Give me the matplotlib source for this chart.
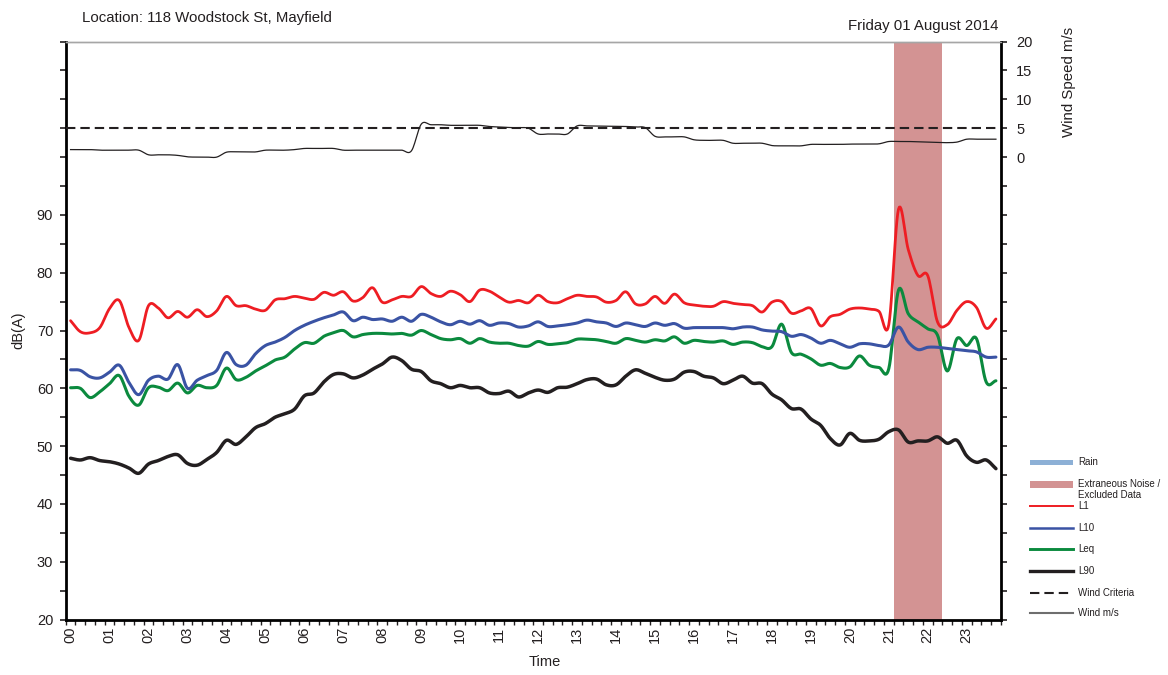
import numpy as np
import matplotlib
matplotlib.use("Agg")
import matplotlib.pyplot as plt
from matplotlib.lines import Line2D
from matplotlib.patches import Rectangle
from matplotlib.ticker import FixedLocator, FuncFormatter

plt.rcParams['font.family'] = ['Liberation Sans', 'DejaVu Sans']

# 15-minute intervals, 00:00 to 23:45
hour_labels = ["00", "01", "02", "03", "04", "05", "06", "07", "08", "09", "10", "11",
               "12", "13", "14", "15", "16", "17", "18", "19", "20", "21", "22", "23"]

L1 = [71.7, 69.8, 69.6, 70.5, 73.8, 75.2, 70.5, 68.3, 74.3, 73.9, 72.2, 73.3,
      72.3, 73.6, 72.4, 73.4, 75.9, 74.3, 74.3, 73.7, 73.5, 75.3, 75.5, 75.9,
      75.6, 75.4, 76.6, 76.1, 76.7, 75.1, 75.7, 77.4, 74.9, 75.3, 75.9, 75.9,
      77.6, 76.4, 75.9, 76.8, 76.2, 75.0, 77.0, 76.8, 75.8, 74.9, 75.2, 74.8,
      76.1, 75.0, 74.8, 75.5, 76.1, 75.9, 75.8, 74.9, 75.2, 76.7, 74.6, 74.6,
      75.9, 74.7, 76.3, 74.8, 74.4, 74.2, 74.2, 75.0, 74.7, 74.5, 74.3, 73.2,
      74.9, 75.0, 73.0, 73.4, 73.8, 70.8, 72.4, 72.8, 73.7, 73.9, 73.7, 73.3,
      71.0, 91.0, 84.0, 79.5, 79.5, 71.5, 71.0, 73.5, 75.0, 74.0, 70.4, 72.0]

L10 = [63.2, 63.1, 62.0, 61.8, 62.8, 64.0, 61.0, 58.9, 61.4, 62.1, 61.6, 64.1,
       60.0, 61.4, 62.2, 63.1, 66.2, 64.1, 64.0, 66.0, 67.4, 68.0, 68.8, 70.0,
       70.9, 71.6, 72.2, 72.7, 73.2, 71.7, 72.3, 71.9, 72.0, 71.6, 72.3, 71.6,
       72.8, 72.3, 71.5, 71.0, 71.6, 71.1, 71.7, 70.9, 71.3, 71.2, 70.6, 70.8,
       71.5, 70.7, 70.8, 71.0, 71.3, 71.8, 71.5, 71.3, 70.7, 71.3, 71.0, 70.7,
       71.3, 70.9, 71.2, 70.4, 70.5, 70.5, 70.5, 70.5, 70.3, 70.6, 70.6, 70.1,
       69.9, 69.8, 69.0, 69.3, 68.7, 67.8, 68.3, 67.7, 67.1, 67.7, 67.7, 67.4,
       67.5, 70.6, 68.0, 66.7, 67.1, 67.1, 66.9, 66.7, 66.5, 66.3, 65.4, 65.4]

Leq = [60.1, 60.0, 58.4, 59.4, 60.8, 62.2, 58.6, 57.1, 60.1, 60.2, 59.6, 60.9,
       59.2, 60.5, 60.1, 60.5, 63.5, 61.5, 61.9, 63.0, 63.9, 64.9, 65.4, 66.8,
       67.9, 67.8, 69.0, 69.6, 70.0, 68.9, 69.3, 69.5, 69.5, 69.4, 69.5, 69.2,
       70.0, 69.3, 68.6, 68.4, 68.6, 67.8, 68.6, 68.0, 67.8, 67.8, 67.4, 67.3,
       68.1, 67.6, 67.7, 67.9, 68.5, 68.5, 68.4, 68.1, 67.8, 68.6, 68.3, 68.0,
       68.4, 68.2, 68.9, 67.8, 68.3, 68.1, 68.0, 68.2, 67.6, 68.0, 67.9, 67.2,
       67.2, 71.1, 66.2, 65.9, 65.1, 64.0, 64.3, 63.6, 63.7, 65.6, 64.0, 63.6,
       63.4, 77.0, 72.9, 71.5, 70.3, 69.2, 63.0, 68.6, 67.4, 68.6, 61.1, 61.3]

L90 = [47.9, 47.6, 48.0, 47.5, 47.3, 46.9, 46.2, 45.3, 46.9, 47.5, 48.2, 48.5,
       47.0, 46.7, 47.7, 48.9, 51.0, 50.3, 51.6, 53.2, 53.9, 55.0, 55.6, 56.4,
       58.7, 59.2, 61.1, 62.4, 62.5, 61.8, 62.3, 63.3, 64.2, 65.4, 64.8, 63.3,
       62.9, 61.3, 60.8, 60.1, 60.5, 60.1, 60.1, 59.2, 59.1, 59.5, 58.5, 59.2,
       59.7, 59.3, 60.1, 60.2, 60.8, 61.5, 61.6, 60.6, 60.6, 62.1, 63.2, 62.6,
       61.9, 61.4, 61.6, 62.8, 62.9, 62.1, 61.8, 60.8, 61.4, 62.1, 60.9, 60.8,
       59.0, 58.0, 56.5, 56.4, 54.7, 53.6, 51.3, 50.2, 52.2, 51.0, 50.9, 51.2,
       52.5, 52.8, 50.7, 50.9, 50.9, 51.6, 50.5, 51.0, 48.3, 47.2, 47.6, 46.1]

wind = [1.3, 1.3, 1.3, 1.2, 1.2, 1.2, 1.2, 1.2, 0.4, 0.4, 0.4, 0.3,
        0.05, 0.0, 0.0, 0.0, 0.85, 0.9, 0.9, 0.9, 1.2, 1.2, 1.2, 1.3,
        1.5, 1.5, 1.5, 1.5, 1.2, 1.2, 1.2, 1.2, 1.2, 1.2, 1.2, 1.1,
        5.7, 5.6, 5.6, 5.5, 5.5, 5.5, 5.5, 5.3, 5.2, 5.1, 5.1, 5.0,
        4.0, 4.0, 4.0, 4.0, 5.4, 5.4, 5.35, 5.35, 5.3, 5.3, 5.2, 5.1,
        3.6, 3.5, 3.5, 3.5, 3.0, 2.9, 2.9, 2.9, 2.4, 2.4, 2.4, 2.4,
        2.0, 1.95, 1.95, 1.95, 2.2, 2.2, 2.2, 2.2, 2.25, 2.25, 2.25, 2.3,
        2.7, 2.7, 2.7, 2.65, 2.6, 2.55, 2.5, 2.6, 3.1, 3.1, 3.1, 3.1]

wind_criteria = 5.0
# excluded intervals (index of first and last 15-min interval)
excluded = (85, 89)

C_L1, C_L10, C_LEQ, C_L90 = "#EE1D23", "#3A53A4", "#0B8A3E", "#231F20"
C_EXCL = "#D39393"
C_RAIN = "#8DB0D6"
C_TEXT = "#231F20"


def smooth(y, k=12):
    """Catmull-Rom spline through equally spaced points."""
    y = np.asarray(y, dtype=float)
    p = np.concatenate([[2 * y[0] - y[1]], y, [2 * y[-1] - y[-2]]])
    t = np.linspace(0, 1, k, endpoint=False)
    xs, ys = [], []
    for i in range(len(y) - 1):
        p0, p1, p2, p3 = p[i], p[i + 1], p[i + 2], p[i + 3]
        seg = 0.5 * (2 * p1 + (-p0 + p2) * t + (2 * p0 - 5 * p1 + 4 * p2 - p3) * t ** 2
                     + (-p0 + 3 * p1 - 3 * p2 + p3) * t ** 3)
        xs.append(i + t)
        ys.append(seg)
    xs.append([len(y) - 1])
    ys.append([y[-1]])
    return np.concatenate(xs), np.concatenate(ys)


fig = plt.figure(figsize=(11.68, 6.75), dpi=100)
ax = fig.add_axes([0.05625, 0.0822, 0.8006, 0.8563])
ax2 = ax.twinx()

n = len(L1)
ax.set_xlim(-0.5, n - 0.5)
ax.set_ylim(20, 120)
ax2.set_ylim(-80, 20)

ax.axvspan(excluded[0] - 0.5, excluded[1] + 0.5, color=C_EXCL, lw=0, zorder=1)

for series, col, lw in [(L90, C_L90, 2.5), (Leq, C_LEQ, 2.2), (L10, C_L10, 2.2), (L1, C_L1, 2.0)]:
    xs, ys = smooth(series)
    ax.plot(xs, ys, color=col, lw=lw, solid_capstyle='round', zorder=3)

ax2.axhline(wind_criteria, color=C_TEXT, lw=1.5, linestyle=(0, (4.5, 2.4)), zorder=3)
xs, ys = smooth(wind)
ax2.plot(xs, ys, color=C_TEXT, lw=0.9, zorder=3)

# axes styling
for a in (ax, ax2):
    a.spines['top'].set_color("#A6A6A6")
    a.spines['top'].set_linewidth(1.0)
ax.spines['left'].set_linewidth(2.0)
ax.spines['bottom'].set_linewidth(2.0)
ax.spines['right'].set_visible(False)
ax2.spines['right'].set_linewidth(2.0)
ax2.spines['left'].set_visible(False)
ax2.spines['bottom'].set_visible(False)

ax.yaxis.set_major_locator(FixedLocator(np.arange(20, 121, 5)))
ax.yaxis.set_major_formatter(FuncFormatter(lambda v, p: f"{v:.0f}" if (v % 10 == 0 and v <= 90) else ""))
ax.tick_params(axis='y', direction='out', length=4, width=1.2, labelsize=10.5, pad=5, colors=C_TEXT)

ax2.yaxis.set_major_locator(FixedLocator(np.arange(-80, 21, 5)))
ax2.yaxis.set_major_formatter(FuncFormatter(lambda v, p: f"{v:.0f}" if v >= 0 else ""))
ax2.tick_params(axis='y', direction='out', length=4, width=1.2, labelsize=10.5, pad=7, colors=C_TEXT)

ax.set_xticks(np.arange(0, n, 4))
ax.set_xticklabels(hour_labels, rotation=90, fontsize=10.5, color=C_TEXT)
ax.tick_params(axis='x', which='major', length=0, pad=5)
ax.set_xticks(np.arange(-0.5, n, 1), minor=True)
ax.tick_params(axis='x', which='minor', direction='out', length=3.5, width=1.0, colors=C_TEXT)

ax.set_ylabel("dB(A)", fontsize=10.5, color=C_TEXT)
ax.yaxis.set_label_coords(-0.043, 0.5)
ax.set_xlabel("Time", fontsize=10.5, color=C_TEXT)
ax.xaxis.set_label_coords(0.5126, -0.062)

fig.text(82 / 1168, 1 - 18 / 675, "Location: 118 Woodstock St, Mayfield", fontsize=10.8,
         va='center', ha='left', color=C_TEXT)
fig.text(998 / 1168, 1 - 26 / 675, "Friday 01 August 2014", fontsize=10.8,
         va='center', ha='right', color=C_TEXT)
fig.text(1069 / 1168, 1 - 82 / 675, "Wind Speed m/s", fontsize=10.8, rotation=90,
         va='center', ha='center', color=C_TEXT)

# legend block
W, H = 1168.0, 675.0
x0, x1, xt = 1030 / W, 1073 / W, 1078 / W


def fy(py):
    return 1 - py / H


fig.add_artist(Rectangle((x0, fy(465)), x1 - x0, 5 / H, transform=fig.transFigure,
                         facecolor=C_RAIN, edgecolor='none'))
fig.add_artist(Rectangle((x0, fy(488)), x1 - x0, 7 / H, transform=fig.transFigure,
                         facecolor=C_EXCL, edgecolor='none'))
legend_lines = [
    (506, dict(color=C_L1, lw=1.4)),
    (528, dict(color=C_L10, lw=1.8)),
    (549, dict(color=C_LEQ, lw=2.1)),
    (571, dict(color=C_L90, lw=2.4)),
    (593, dict(color=C_TEXT, lw=1.5, linestyle=(0, (4.5, 2.4)))),
    (613, dict(color="#6E6E6E", lw=1.5)),
]
for py, kw in legend_lines:
    fig.add_artist(Line2D([x0, x1], [fy(py), fy(py)], transform=fig.transFigure, **kw))

legend_texts = [(462, "Rain"), (484, "Extraneous Noise /"), (495, "Excluded Data"),
                (506, "L1"), (528, "L10"), (549, "Leq"), (571, "L90"),
                (593, "Wind Criteria"), (613, "Wind m/s")]
for py, txt in legend_texts:
    fig.text(xt, fy(py), txt, fontsize=7, va='center', ha='left', color=C_TEXT)

fig.savefig("out.png", dpi=100)
